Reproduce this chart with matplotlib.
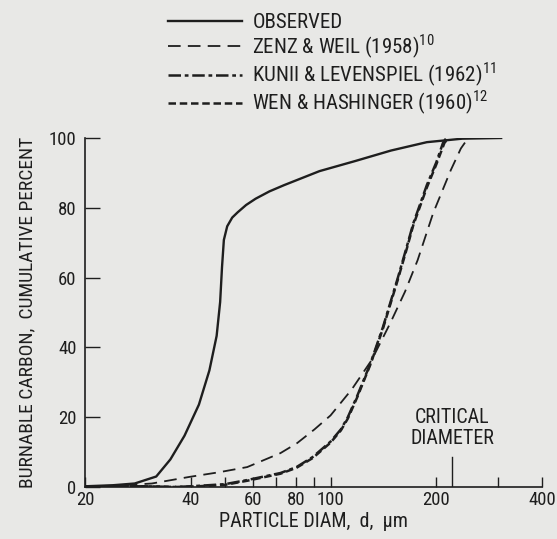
import matplotlib.pyplot as plt
from matplotlib import font_manager
from matplotlib.ticker import FixedLocator, FixedFormatter, NullFormatter

# waska czcionka, jesli jest zainstalowana
dostepne = {(f.name, f.stretch) for f in font_manager.fontManager.ttflist}
nazwy = {n for n, _ in dostepne}
if 'Liberation Sans Narrow' in nazwy:
    rodzina, rozciag = 'Liberation Sans Narrow', 'normal'
elif 'Roboto Condensed' in nazwy:
    rodzina, rozciag = 'Roboto Condensed', 'normal'
elif ('DejaVu Sans', 'condensed') in dostepne or ('DejaVu Sans', 'semi-condensed') in dostepne:
    rodzina, rozciag = 'DejaVu Sans', 'condensed'
else:
    rodzina, rozciag = 'DejaVu Sans', 'normal'
plt.rcParams['font.family'] = [rodzina, 'DejaVu Sans']
plt.rcParams['font.stretch'] = rozciag
plt.rcParams['mathtext.fontset'] = 'custom'
plt.rcParams['mathtext.rm'] = rodzina

# --- dane ---
obs_d = [20, 24, 27.7, 31.9, 35, 38.4, 42.2, 45.2, 47.4, 48.5, 49.1, 49.7, 50.8, 52.5, 54.4, 57.5,
         61.2, 67, 73.8, 93, 117.6, 148.6, 188, 237, 306]
obs_y = [0.2, 0.5, 1, 3, 7.9, 14.7, 23.6, 33.4, 43.3, 53, 63, 70.8, 74.7, 77.2, 78.7, 80.8,
         82.6, 84.7, 86.5, 90.5, 93.4, 96.4, 98.8, 99.8, 100]

zenz_d = [20, 25, 31, 39.7, 48, 57.9, 72, 80.4, 90, 100, 115, 131, 148, 163, 177, 196, 220, 235, 245]
zenz_y = [0.2, 0.4, 1, 2.9, 4.2, 5.7, 9.7, 12.6, 16.5, 20.5, 28, 36.4, 47, 56, 65, 78.5, 90.8, 97, 99.6]

kunii_d = [20, 30, 36, 40, 50, 58, 72, 80, 89, 100, 107, 112, 119, 130, 141, 155, 165,
           172, 188, 200, 209, 213]
kunii_y = [0.2, 0.2, 0, 0.2, 0.8, 2, 4, 5.7, 8.6, 13, 16.5, 20, 26, 35.5, 45.8, 59.5, 69,
           75.5, 86.5, 93, 98.6, 99.8]

wen_d = [20, 30, 36, 40, 50, 58, 72, 80, 89, 100, 107, 112, 119, 130, 141, 155, 165,
         172, 188, 200, 211, 216]
wen_y = [0.2, 0.2, 0, 0.1, 0.6, 1.8, 3.8, 5.5, 8.3, 12.7, 16.2, 19.6, 25.6, 35.2, 45.4, 59, 68.4,
         75, 85.8, 92.4, 98.6, 99.8]

critical_d = 222

x_labels = [20, 40, 60, 80, 100, 200, 400]
x_minor = [50, 70, 90, 300]
y_ticks = [0, 20, 40, 60, 80, 100]

kolor = '#1e1e1e'
tlo = '#e8e8e6'

fig = plt.figure(figsize=(5.57, 5.39), dpi=100, facecolor=tlo)
ax = fig.add_axes([0.1526, 0.0965, 0.8205, 0.6475], facecolor=tlo)

l_obs, = ax.plot(obs_d, obs_y, color=kolor, lw=1.7, label='OBSERVED')
l_zenz, = ax.plot(zenz_d, zenz_y, color=kolor, lw=1.3, dashes=(7, 4),
                  label='ZENZ & WEIL (1958)$^{10}$')
l_kunii, = ax.plot(kunii_d, kunii_y, color=kolor, lw=1.8, dashes=(5, 1.5, 1.5, 1.5),
                   label='KUNII & LEVENSPIEL (1962)$^{11}$')
l_wen, = ax.plot(wen_d, wen_y, color=kolor, lw=1.8, dashes=(3, 1.5),
                 label='WEN & HASHINGER (1960)$^{12}$')

ax.set_xscale('log')
ax.set_xlim(20, 400)
ax.set_ylim(0, 100)

ax.xaxis.set_major_locator(FixedLocator(x_labels))
ax.xaxis.set_major_formatter(FixedFormatter([str(v) for v in x_labels]))
ax.xaxis.set_minor_locator(FixedLocator(x_minor))
ax.xaxis.set_minor_formatter(NullFormatter())
ax.set_yticks(y_ticks)

ax.tick_params(axis='x', which='both', direction='in', length=7, width=1, color=kolor,
               labelsize=13.5, labelcolor=kolor, pad=3)
ax.tick_params(axis='y', direction='in', length=11, width=1, color=kolor,
               labelsize=13.5, labelcolor=kolor, pad=6)
# dluzszy znacznik przy 100, brak przy 20
for t in ax.xaxis.get_major_ticks():
    if t.get_loc() == 100:
        t.tick1line.set_markersize(11)
    if t.get_loc() == 20:
        t.tick1line.set_visible(False)

ax.spines['top'].set_visible(False)
ax.spines['right'].set_visible(False)
for s in ['left', 'bottom']:
    ax.spines[s].set_color(kolor)
    ax.spines[s].set_linewidth(1.2)

# znacznik srednicy krytycznej
ax.plot([critical_d, critical_d], [0, 8.5], color=kolor, lw=1)
ax.text(critical_d, 17, 'CRITICAL\nDIAMETER', ha='center', va='center', fontsize=14.4,
        color=kolor, linespacing=1.15)

ax.set_xlabel('PARTICLE DIAM,  d,  \u03bcm', fontsize=14.5, color=kolor, labelpad=2)
ax.set_ylabel('BURNABLE CARBON,  CUMULATIVE PERCENT', fontsize=14, color=kolor, labelpad=9)

ax.legend(handles=[l_obs, l_zenz, l_kunii, l_wen], loc='upper left',
          bbox_to_anchor=(0.3016, 0.975), bbox_transform=fig.transFigure,
          frameon=False, fontsize=15, handlelength=3.55, handletextpad=0.5,
          labelspacing=0.0, borderaxespad=0, borderpad=0, labelcolor=kolor)

fig.savefig('out.png', dpi=100, facecolor=tlo)
